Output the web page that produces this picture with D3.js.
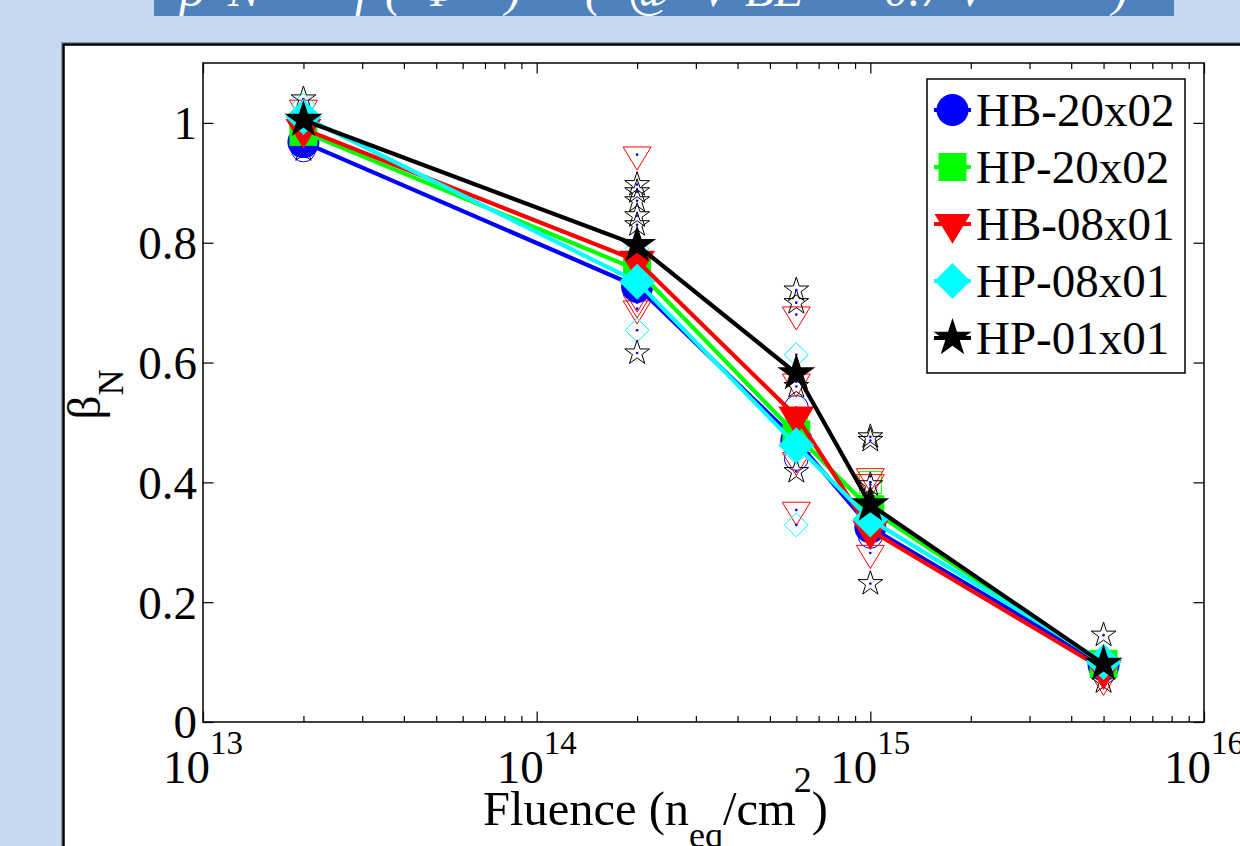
<!DOCTYPE html>
<html>
<head>
<meta charset="utf-8">
<title>beta_N vs fluence</title>
<script src="https://cdn.jsdelivr.net/npm/d3@7/dist/d3.min.js"></script>
<style>body{margin:0;background:#c6d9f0;}</style>
</head>
<body>
<svg id="mainsvg" width="1240" height="846" style="display:block"></svg>
<script>
// ---- data ----
const fluence = [2e13, 2e14, 6e14, 1e15, 5e15];
const seriesNames = ['HB-20x02', 'HP-20x02', 'HB-08x01', 'HP-08x01', 'HP-01x01'];
const seriesColors = ['#0000ff', '#00ff00', '#ff0000', '#00ffff', '#000000'];
const seriesShapes = ['circle', 'square', 'triangle', 'diamond', 'star'];

// mean beta_N per fluence
const meanHB2002 = [0.968, 0.727, 0.470, 0.325, 0.095];
const meanHP2002 = [0.985, 0.755, 0.480, 0.355, 0.097];
const meanHB0801 = [0.990, 0.770, 0.510, 0.320, 0.088];
const meanHP0801 = [1.010, 0.735, 0.462, 0.338, 0.100];
const meanHP0101 = [1.005, 0.796, 0.582, 0.363, 0.097];

// single devices: [fluence index, beta_N]
const devHB2002 = [[0,0.955],[0,0.965],[1,0.72],[1,0.735],[2,0.525],[2,0.475],[2,0.44],[3,0.31],[3,0.335],[4,0.09],[4,0.10]];
const devHP2002 = [[0,0.98],[0,0.99],[1,0.75],[1,0.76],[2,0.49],[2,0.47],[3,0.40],[3,0.36],[4,0.095]];
const devHB0801 = [[0,1.025],[0,0.99],[1,0.947],[1,0.71],[1,0.70],[1,0.69],[2,0.68],[2,0.568],[2,0.437],[2,0.354],[3,0.41],[3,0.40],[3,0.282],[4,0.07],[4,0.08]];
const devHP0801 = [[0,1.03],[0,1.0],[1,0.79],[1,0.654],[2,0.613],[2,0.45],[2,0.329],[3,0.37],[3,0.33],[4,0.11],[4,0.10]];
const devHP0101 = [[0,1.04],[0,0.955],[1,0.897],[1,0.885],[1,0.87],[1,0.845],[1,0.83],[1,0.616],[2,0.721],[2,0.70],[2,0.56],[2,0.418],[3,0.476],[3,0.47],[3,0.396],[3,0.231],[4,0.145],[4,0.067]];

const yTicks = [0, 0.2, 0.4, 0.6, 0.8, 1];
const yTickLabels = ['0', '0.2', '0.4', '0.6', '0.8', '1'];
const xDecades = [1e13, 1e14, 1e15, 1e16];
const xDecadeExp = ['13', '14', '15', '16'];

const means = [meanHB2002, meanHP2002, meanHB0801, meanHP0801, meanHP0101];
const devs = [devHB2002, devHP2002, devHB0801, devHP0801, devHP0101];

// ---- layout ----
const svg = d3.select('#mainsvg');
const font = "'Liberation Serif','Times New Roman',serif";
const axLeft = 203, axRight = 1204, axTop = 63, axBottom = 722;

const xScale = d3.scaleLog().domain([1e13, 1e16]).range([axLeft, axRight]);
const yScale = d3.scaleLinear().domain([0, 1.1]).range([axBottom, axTop]);

// slide background + title banner (title is cut off by the top edge)
svg.append('rect').attr('width', 1240).attr('height', 846).attr('fill', '#c6d9f0');
svg.append('defs').append('clipPath').attr('id', 'bannerclip')
  .append('rect').attr('x', 154).attr('y', 0).attr('width', 1020).attr('height', 16);
svg.append('rect').attr('x', 154).attr('y', 0).attr('width', 1020).attr('height', 16).attr('fill', '#4f81bd');
const title = svg.append('text').attr('clip-path', 'url(#bannerclip)')
  .attr('y', 6).attr('fill', '#fff').attr('font-family', font)
  .attr('font-style', 'italic').attr('font-size', 48);
[['β',180],['N',228],['f',355],['(',385],['Φ',420],[')',505],['(',585],['@',628],['V',700],['BE',745],['= 0.7 V',840],[')',1112]]
  .forEach(t => title.append('tspan').attr('x', t[1]).text(t[0]));

// figure frame
svg.append('rect').attr('x', 61.5).attr('y', 42.5).attr('width', 1300).attr('height', 900)
  .attr('fill', 'none').attr('stroke', '#8a9bb0').attr('stroke-width', 1);
svg.append('rect').attr('x', 63.5).attr('y', 44.5).attr('width', 1300).attr('height', 900)
  .attr('fill', '#fff').attr('stroke', '#000').attr('stroke-width', 2.5);

const g = svg.append('g').attr('id', 'maingroup');

// axes box
g.append('rect').attr('x', axLeft).attr('y', axTop).attr('width', axRight - axLeft).attr('height', axBottom - axTop)
  .attr('fill', '#fff').attr('stroke', '#000').attr('stroke-width', 1.5);

// minor ticks for the log axis
const minorTicks = [];
[1e13, 1e14, 1e15].forEach(d => { for (let k = 2; k <= 9; k++) minorTicks.push(d * k); });

function styleAxis(sel) {
  sel.select('.domain').remove();
  sel.selectAll('line').attr('stroke', '#000').attr('stroke-width', 1.2);
}
g.append('g').attr('transform', `translate(0,${axBottom})`)
  .call(d3.axisBottom(xScale).tickValues(xDecades).tickSize(-10.5).tickFormat('')).call(styleAxis);
g.append('g').attr('transform', `translate(0,${axBottom})`)
  .call(d3.axisBottom(xScale).tickValues(minorTicks).tickSize(-6).tickFormat('')).call(styleAxis);
g.append('g').attr('transform', `translate(0,${axTop})`)
  .call(d3.axisTop(xScale).tickValues(xDecades).tickSize(-10.5).tickFormat('')).call(styleAxis);
g.append('g').attr('transform', `translate(0,${axTop})`)
  .call(d3.axisTop(xScale).tickValues(minorTicks).tickSize(-6).tickFormat('')).call(styleAxis);

const yAxisG = g.append('g').attr('transform', `translate(${axLeft},0)`)
  .call(d3.axisLeft(yScale).tickValues(yTicks).tickSize(-10.5).tickPadding(6)
    .tickFormat((d, i) => yTickLabels[i])).call(styleAxis);
yAxisG.selectAll('text').attr('font-family', font).attr('font-size', 47).attr('fill', '#000').attr('dy', '0.34em');
g.append('g').attr('transform', `translate(${axRight},0)`)
  .call(d3.axisRight(yScale).tickValues(yTicks).tickSize(-10.5).tickFormat('')).call(styleAxis);

// x decade labels 10^n
xDecades.forEach((d, i) => {
  const t = g.append('text').attr('x', xScale(d)).attr('y', 783)
    .attr('text-anchor', 'middle').attr('font-family', font).attr('fill', '#000');
  t.append('tspan').attr('font-size', 47).text('10');
  t.append('tspan').attr('font-size', 33).attr('dy', -29).text(xDecadeExp[i]);
});

// axis titles
const xl = g.append('text').attr('x', 483).attr('y', 825).attr('font-family', font).attr('fill', '#000').attr('font-size', 48.5);
xl.append('tspan').text('Fluence (n');
xl.append('tspan').attr('font-size', 36).attr('dy', 22).text('eq');
xl.append('tspan').attr('dy', -22).text('/cm');
xl.append('tspan').attr('font-size', 36).attr('dy', -33).attr('dx', -2).text('2');
xl.append('tspan').attr('dy', 33).text(')');

const yl = g.append('text').attr('transform', `translate(100,${(axTop + axBottom) / 2 + 2}) rotate(-90)`)
  .attr('text-anchor', 'middle').attr('font-family', font).attr('fill', '#000').attr('font-size', 47);
yl.append('tspan').text('β');
yl.append('tspan').attr('font-size', 36).attr('dy', 23).text('N');

// marker shapes
function markerPath(shape, r) {
  const p = d3.path();
  if (shape === 'circle') { p.arc(0, 0, r, 0, 2 * Math.PI); p.closePath(); }
  else if (shape === 'square') { p.rect(-r, -r, 2 * r, 2 * r); }
  else if (shape === 'triangle') { p.moveTo(-r, -0.55 * r); p.lineTo(r, -0.55 * r); p.lineTo(0, 1.1 * r); p.closePath(); }
  else if (shape === 'diamond') { p.moveTo(0, -r); p.lineTo(r, 0); p.lineTo(0, r); p.lineTo(-r, 0); p.closePath(); }
  else {
    for (let k = 0; k < 10; k++) {
      const a = -Math.PI / 2 + k * Math.PI / 5;
      const rr = k % 2 === 0 ? r : r * 0.382;
      if (k === 0) p.moveTo(rr * Math.cos(a), rr * Math.sin(a)); else p.lineTo(rr * Math.cos(a), rr * Math.sin(a));
    }
    p.closePath();
  }
  return p.toString();
}
const bigSize = {circle: 16, square: 14, triangle: 18, diamond: 18, star: 20};
const smallSize = {circle: 12, square: 11, triangle: 14, diamond: 12, star: 13};

// single-device open markers
seriesNames.forEach((name, s) => {
  const grp = g.append('g').attr('class', 'devs');
  grp.selectAll('path').data(devs[s]).join('path')
    .attr('transform', d => `translate(${xScale(fluence[d[0]])},${yScale(d[1])})`)
    .attr('d', markerPath(seriesShapes[s], smallSize[seriesShapes[s]]))
    .attr('fill', 'none').attr('stroke', seriesColors[s]).attr('stroke-width', 1);
  grp.selectAll('circle').data(devs[s]).join('circle')
    .attr('cx', d => xScale(fluence[d[0]])).attr('cy', d => yScale(d[1]))
    .attr('r', 1.3).attr('fill', '#0000ff');
});

// mean lines with filled markers
const line = d3.line().x((d, i) => xScale(fluence[i])).y(d => yScale(d));
seriesNames.forEach((name, s) => {
  const grp = g.append('g').attr('class', 'series');
  grp.append('path').attr('d', line(means[s])).attr('fill', 'none')
    .attr('stroke', seriesColors[s]).attr('stroke-width', 4.2);
  grp.selectAll('path.mk').data(means[s]).join('path').attr('class', 'mk')
    .attr('transform', (d, i) => `translate(${xScale(fluence[i])},${yScale(d)})`)
    .attr('d', markerPath(seriesShapes[s], bigSize[seriesShapes[s]]))
    .attr('fill', seriesColors[s]);
});

// legend
const lg = g.append('g');
lg.append('rect').attr('x', 927).attr('y', 79).attr('width', 258).attr('height', 294)
  .attr('fill', '#fff').attr('stroke', '#000').attr('stroke-width', 1.5);
const items = lg.selectAll('g').data(seriesNames).join('g')
  .attr('transform', (d, i) => `translate(0,${110 + i * 57})`);
items.append('line').attr('x1', 934).attr('x2', 971).attr('y1', 0).attr('y2', 0)
  .attr('stroke', (d, i) => seriesColors[i]).attr('stroke-width', 4);
items.append('path').attr('transform', 'translate(952.5,0)')
  .attr('d', (d, i) => markerPath(seriesShapes[i], bigSize[seriesShapes[i]]))
  .attr('fill', (d, i) => seriesColors[i]);
items.append('text').attr('x', 976).attr('y', 15.5).attr('font-family', font)
  .attr('font-size', 47).attr('fill', '#000').text(d => d);
</script>
</body>
</html>
